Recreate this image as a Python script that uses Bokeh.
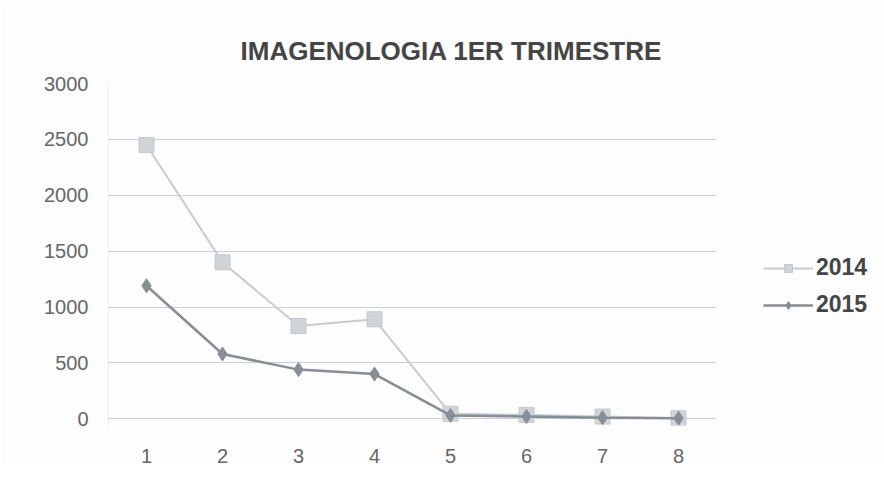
from bokeh.plotting import figure
from bokeh.models import Range1d, Legend, LegendItem, FixedTicker, Title, Span
from bokeh.embed import file_html
from bokeh.resources import INLINE

categories = [1, 2, 3, 4, 5, 6, 7, 8]
series_2014 = [2450, 1400, 830, 890, 45, 35, 20, 5]
series_2015 = [1190, 580, 440, 400, 30, 20, 10, 5]
y_ticks = [0, 500, 1000, 1500, 2000, 2500, 3000]

p = figure(width=868, height=482, output_backend="svg", toolbar_location=None,
           x_range=Range1d(0.5, 8.5), y_range=Range1d(-60, 3000),
           min_border_left=108, min_border_right=20, min_border_top=83,
           background_fill_color="#fdfdfd", border_fill_color="#fdfdfd")
p.frame_width = 608
p.frame_height = 342

p.title = Title(text="IMAGENOLOGIA 1ER TRIMESTRE", align="left",
                text_font="Liberation Sans", text_font_size="26px",
                text_font_style="bold", text_color="#454545", offset=132)
p.title.standoff = 35

p.yaxis.ticker = FixedTicker(ticks=y_ticks)
p.xaxis.ticker = FixedTicker(ticks=categories)
for ax in (p.xaxis[0], p.yaxis[0]):
    ax.axis_line_color = None
    ax.major_tick_line_color = None
    ax.minor_tick_line_color = None
    ax.major_label_text_font = "Liberation Sans"
    ax.major_label_text_font_size = "20px"
    ax.major_label_text_color = "#666666"
p.yaxis.major_label_standoff = 14
p.xaxis.major_label_standoff = 17

p.xgrid.grid_line_color = None
p.ygrid.grid_line_color = "#c9d0d8"
p.ygrid.ticker = FixedTicker(ticks=y_ticks)
p.outline_line_color = None
p.add_layout(Span(location=0.5, dimension="height", line_color="#dde2e7", line_width=1))

l14 = p.line(categories, series_2014, line_color="#c6ccd2", line_width=2)
m14 = p.scatter(categories, series_2014, marker="square", size=15,
                fill_color="#cfd4d9", line_color="#c3c9cf")
l15 = p.line(categories, series_2015, line_color="#868d94", line_width=2.5)
m15 = p.scatter(categories, series_2015, marker="diamond", size=14,
                fill_color="#878e95", line_color="#878e95")

legend = Legend(items=[LegendItem(label="2014", renderers=[l14, m14]),
                       LegendItem(label="2015", renderers=[l15, m15])],
                location=(47, 107), border_line_color=None,
                background_fill_alpha=0, label_text_font="Liberation Sans",
                label_text_font_size="23px", label_text_font_style="bold",
                label_text_color="#454545", glyph_width=50, spacing=10,
                label_standoff=3, orientation="vertical")
p.add_layout(legend, "right")

open("out.html", "w").write(file_html(p, INLINE))
